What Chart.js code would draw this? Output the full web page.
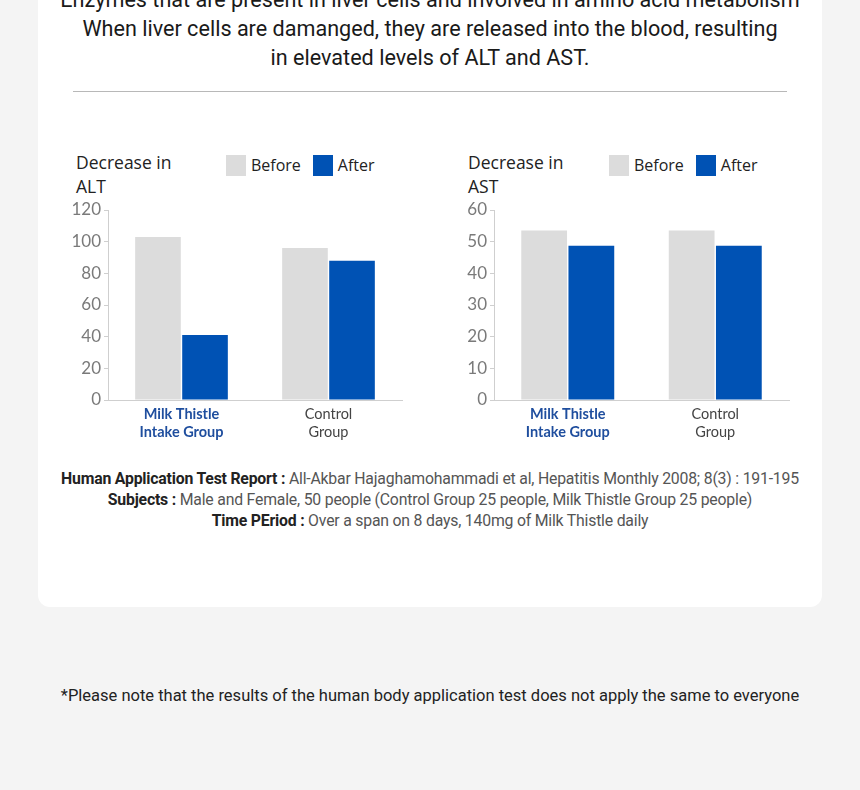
<!DOCTYPE html>
<html>
<head>
<meta charset="utf-8">
<script src="https://cdn.jsdelivr.net/npm/chart.js@4"></script>
<style>
  html, body { margin: 0; padding: 0; }
  body { width: 860px; height: 790px; background: #f4f4f4; position: relative; overflow: hidden; font-family: "Roboto", sans-serif; }
  .panel { position: absolute; left: 38px; top: -40px; width: 784px; height: 647px; background: #fff; border-radius: 12px; }
  .abs { position: absolute; }
  .header { left: 0; width: 860px; text-align: center; font-family: "Roboto", sans-serif; font-size: 21.6px; color: #1a1a1a; line-height: 29px; top: -15px; }
  .sep { left: 73px; top: 91px; width: 714px; height: 0; border-top: 1.5px solid #b8b8b8; }
  .ctitle { font-family: "Open Sans", sans-serif; font-size: 17.5px; font-weight: 500; color: #222; line-height: 24px; }
  .legend { font-family: "Open Sans", sans-serif; font-size: 16px; color: #222; display: flex; align-items: center; }
  .legend .box { width: 20px; height: 21px; display: inline-block; margin-right: 5px; }
  .legend .item { display: flex; align-items: center; margin-right: 12px; }
  .cite { left: 0; width: 860px; text-align: center; font-family: "Roboto", sans-serif; font-size: 15.8px; color: #555; line-height: 21px; top: 468px; letter-spacing: -0.2px; }
  .cite b { color: #222; font-weight: 700; }
  .note { left: 0; width: 860px; text-align: center; font-family: "Roboto", sans-serif; font-size: 16.5px; color: #222; top: 686px; }
</style>
</head>
<body>
<div class="panel"></div>
<div class="abs header">Enzymes that are present in liver cells and involved in amino acid metabolism<br>When liver cells are damanged, they are released into the blood, resulting<br>in elevated levels of ALT and AST.</div>
<div class="abs sep"></div>

<div class="abs ctitle" style="left:76px; top:150px;">Decrease in<br>ALT</div>
<div class="abs legend" style="left:226px; top:154px;">
  <span class="item"><span class="box" style="background:#dcdcdc"></span>Before</span>
  <span class="item"><span class="box" style="background:#0052b4"></span>After</span>
</div>
<div class="abs ctitle" style="left:468px; top:150px;">Decrease in<br>AST</div>
<div class="abs legend" style="left:609px; top:154px;">
  <span class="item"><span class="box" style="background:#dcdcdc"></span>Before</span>
  <span class="item"><span class="box" style="background:#0052b4"></span>After</span>
</div>

<div class="abs" style="left:60px; top:196px; width:343px; height:249px;"><canvas id="alt"></canvas></div>
<div class="abs" style="left:447px; top:196px; width:343px; height:249px;"><canvas id="ast"></canvas></div>

<div class="abs cite">
  <b>Human Application Test Report :</b> All-Akbar Hajaghamohammadi et al, Hepatitis Monthly 2008; 8(3) : 191-195<br>
  <b>Subjects :</b> Male and Female, 50 people (Control Group 25 people, Milk Thistle Group 25 people)<br>
  <b>Time PEriod :</b> Over a span on 8 days, 140mg of Milk Thistle daily
</div>
<div class="abs note">*Please note that the results of the human body application test does not apply the same to everyone</div>

<script>
const categories = [["Milk Thistle", "Intake Group"], ["Control", "Group"]];
const seriesNames = ["Before", "After"];
const altBefore = [103, 96];
const altAfter = [41, 88];
const astBefore = [53.5, 53.5];
const astAfter = [48.7, 48.7];
const altTicks = [0, 20, 40, 60, 80, 100, 120];
const astTicks = [0, 10, 20, 30, 40, 50, 60];

const colors = ["#dcdcdc", "#0052b4"];
const labelColors = ["#1f4e9e", "#444"];

function makeChart(id, before, after, ticks, yAxisWidth) {
  const max = ticks[ticks.length - 1];
  const step = ticks[1] - ticks[0];
  return new Chart(document.getElementById(id), {
    type: 'bar',
    data: {
      labels: categories,
      datasets: [
        { label: seriesNames[0], data: before, backgroundColor: colors[0], categoryPercentage: 0.64, barPercentage: 0.97 },
        { label: seriesNames[1], data: after, backgroundColor: colors[1], categoryPercentage: 0.64, barPercentage: 0.97 }
      ]
    },
    options: {
      responsive: true,
      maintainAspectRatio: false,
      animation: false,
      layout: { padding: { top: 14, right: 1, left: 0, bottom: 0 } },
      plugins: { legend: { display: false }, tooltip: { enabled: false }, title: { display: false } },
      scales: {
        x: {
          grid: { display: false, drawTicks: false },
          border: { display: true, color: '#cfcfcf', width: 1 },
          ticks: {
            padding: 5,
            color: (ctx) => labelColors[ctx.index],
            font: (ctx) => ({ family: 'Lato', size: 14.5, weight: ctx.index === 0 ? 'bold' : 'normal', lineHeight: 1.25 })
          },
          afterFit: (s) => { s.height = 45; }
        },
        y: {
          min: 0, max: max,
          afterBuildTicks: (s) => { s.ticks = ticks.map(v => ({ value: v })); },
          grid: { display: true, drawOnChartArea: false, drawTicks: true, tickLength: 4, color: '#cfcfcf' },
          border: { display: true, color: '#cfcfcf', width: 1 },
          ticks: { stepSize: step, padding: 3, color: '#7a7a7a', font: { family: 'Lato', size: 17 } },
          afterFit: (s) => { s.width = yAxisWidth; }
        }
      }
    }
  });
}
makeChart('alt', altBefore, altAfter, altTicks, 48);
makeChart('ast', astBefore, astAfter, astTicks, 47);
</script>
</body>
</html>
